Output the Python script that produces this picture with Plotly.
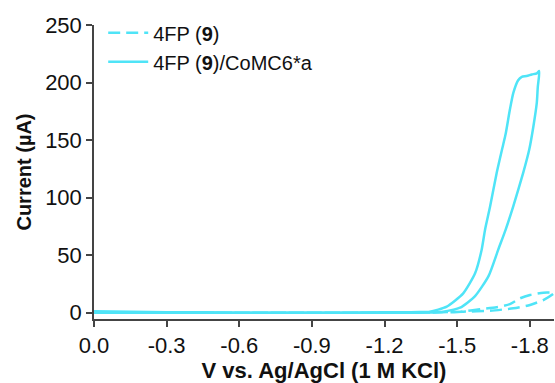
import plotly.graph_objects as go

# 4FP (9) -- dashed trace (forward then reverse scan)
v_4fp = [0.0, -0.3, -0.6, -0.9, -1.2, -1.4, -1.525, -1.636, -1.732, -1.801, -1.856, -1.90,
         -1.856, -1.801, -1.760, -1.718, -1.663, -1.594, -1.519, -1.45, -1.3, -1.0, -0.5, 0.0]
i_4fp = [0.3, 0.1, 0.0, 0.0, 0.0, 0.2, 0.9, 1.7, 3.8, 6.7, 11.0, 17.0,
         17.4, 15.4, 12.5, 7.5, 4.7, 3.0, 0.9, 0.3, 0.0, 0.0, 0.0, 0.0]

# 4FP (9)/CoMC6*a -- solid trace
v_co = [0.0, -0.3, -0.6, -0.9, -1.2, -1.30, -1.346, -1.387, -1.457, -1.525, -1.574, -1.601,
        -1.615, -1.636, -1.663, -1.690, -1.700, -1.718, -1.732, -1.752, -1.767, -1.787,
        -1.808, -1.829, -1.839,
        -1.833, -1.829, -1.815, -1.798, -1.773, -1.732, -1.700, -1.670, -1.630, -1.574,
        -1.512, -1.443, -1.38, -1.2, -0.9, -0.6, -0.3, 0.0]
i_co = [1.2, 0.4, 0.2, 0.2, 0.3, 0.4, 0.5, 0.9, 5.2, 16.8, 34.2, 54.5,
        71.9, 92.2, 121.2, 146.0, 155.0, 176.7, 191.0, 202.0, 205.0, 205.6,
        207.0, 208.0, 210.0,
        196.0, 182.5, 162.0, 142.0, 121.7, 92.6, 72.0, 55.0, 32.0, 14.4,
        4.3, 0.9, 0.2, 0.0, 0.0, 0.0, 0.0, 0.0]

x_ticks = [0.0, -0.3, -0.6, -0.9, -1.2, -1.5, -1.8]
x_tick_text = ["0.0", "-0.3", "-0.6", "-0.9", "-1.2", "-1.5", "-1.8"]
y_ticks = [0, 50, 100, 150, 200, 250]

color = "#4FE4F7"
font_family = "Liberation Sans, Arial, sans-serif"

fig = go.Figure()
fig.add_trace(go.Scatter(x=v_4fp, y=i_4fp, mode="lines", name="4FP (<b>9</b>)",
                         line=dict(color=color, width=2.5, dash="12px,6px", shape="spline", smoothing=0.6)))
fig.add_trace(go.Scatter(x=v_co, y=i_co, mode="lines", name="4FP (<b>9</b>)/CoMC6*a",
                         line=dict(color=color, width=2.5, shape="spline", smoothing=0.6)))

axis_common = dict(showgrid=False, zeroline=False, showline=True, linecolor="#444", linewidth=1.5,
                   ticks="outside", ticklen=6, tickcolor="#444", tickwidth=1.5,
                   tickfont=dict(family=font_family, size=22, color="#111"))

fig.update_layout(
    width=555, height=383,
    margin=dict(l=94, r=1, t=25, b=64),
    paper_bgcolor="white", plot_bgcolor="white",
    showlegend=True,
    legend=dict(x=0.02, y=1.04, xanchor="left", yanchor="top", bgcolor="rgba(0,0,0,0)",
                itemwidth=40,
                font=dict(family=font_family, size=20, color="#111"), tracegroupgap=0),
    xaxis=dict(range=[0, -1.9], tickvals=x_ticks, ticktext=x_tick_text,
               title=dict(text="<b>V vs. Ag/AgCl (1 M KCl)</b>", font=dict(family=font_family, size=22, color="#111"), standoff=4),
               **axis_common),
    yaxis=dict(range=[-5.5, 250], tickvals=y_ticks,
               title=dict(text="<b>Current (µA)</b>", font=dict(family=font_family, size=20, color="#111"), standoff=8),
               **axis_common),
)

fig.write_html("out.html")
